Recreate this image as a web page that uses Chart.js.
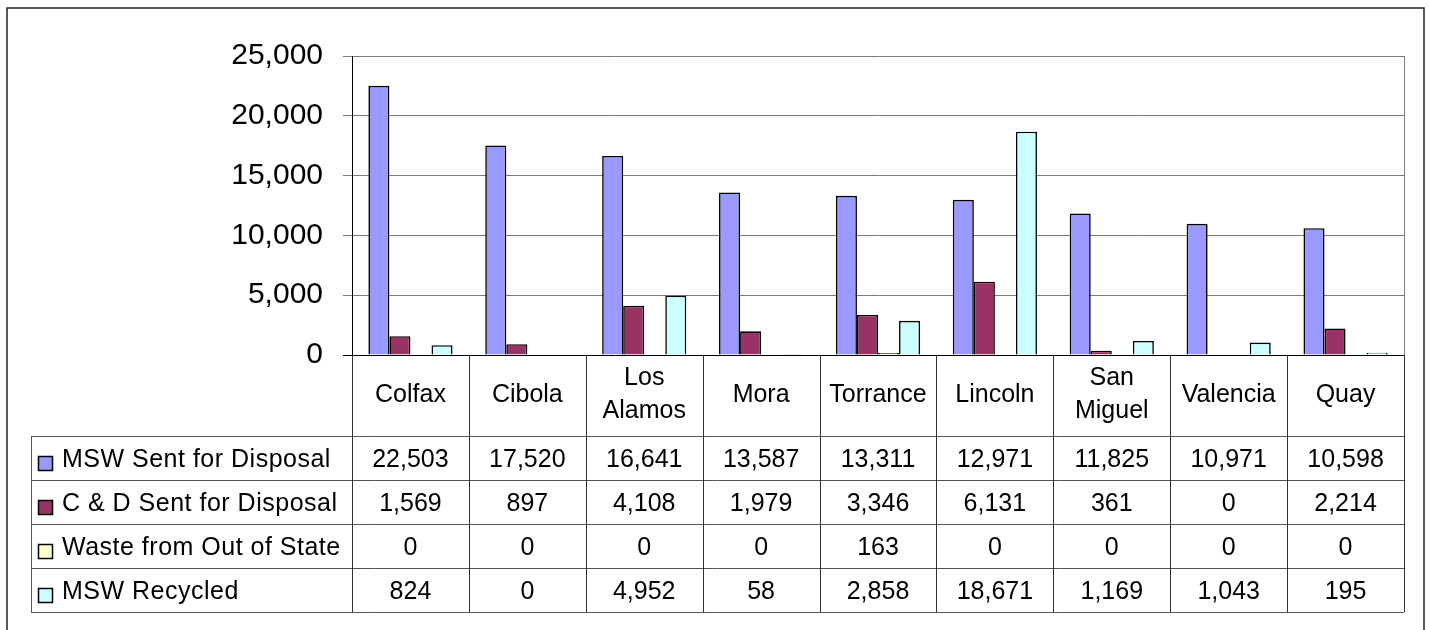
<!DOCTYPE html>
<html>
<head>
<meta charset="utf-8">
<script src="https://cdn.jsdelivr.net/npm/chart.js@4.4.1/dist/chart.umd.min.js"></script>
<style>
  html, body { margin: 0; padding: 0; background: #fff; }
  #wrap { position: relative; width: 1429px; height: 630px; }
</style>
</head>
<body>
<div id="wrap"><canvas id="c" width="1429" height="630"></canvas></div>
<script>
// Counties (multi-line names are given as arrays of lines)
const categories = ['Colfax', 'Cibola', ['Los', 'Alamos'], 'Mora', 'Torrance', 'Lincoln', ['San', 'Miguel'], 'Valencia', 'Quay'];

// Tons per county, by stream
const mswDisposal = [22503, 17520, 16641, 13587, 13311, 12971, 11825, 10971, 10598];
const cdDisposal  = [1569, 897, 4108, 1979, 3346, 6131, 361, 0, 2214];
const outOfState  = [0, 0, 0, 0, 163, 0, 0, 0, 0];
const mswRecycled = [824, 0, 4952, 58, 2858, 18671, 1169, 1043, 195];

const seriesNames = ['MSW Sent for Disposal', 'C & D Sent for Disposal', 'Waste from Out of State', 'MSW Recycled'];
const seriesColors = ['#9999FF', '#993366', '#FFFFCC', '#CCFFFF'];

// Value axis ticks
const yTicks = [0, 5000, 10000, 15000, 20000, 25000];

const FONT = "'Liberation Sans', Arial, sans-serif";
const fmt = v => v.toLocaleString('en-US');

// Data table under the plot, legend keys on the left, plus outer frame
const tablePlugin = {
  id: 'dataTable',
  afterDraw(chart) {
    const ctx = chart.ctx;
    const area = chart.chartArea;
    const xs = chart.scales.x;
    const n = categories.length;
    const colW = (area.right - area.left) / n;
    const headTop = area.bottom;
    const headH = 81;
    const rowH = 44;
    const rowsTop = headTop + headH;
    const tableBottom = rowsTop + rowH * seriesNames.length;
    const legendLeft = 31;

    ctx.save();

    // plot area right edge
    ctx.strokeStyle = '#808080';
    ctx.lineWidth = 1;
    ctx.beginPath();
    ctx.moveTo(Math.round(area.right) + 0.5, area.top);
    ctx.lineTo(Math.round(area.right) + 0.5, area.bottom);
    ctx.stroke();

    // horizontal rules of the table
    ctx.strokeStyle = '#555';
    ctx.lineWidth = 1;
    for (let r = 0; r <= seriesNames.length; r++) {
      const y = Math.round(rowsTop + r * rowH) + 0.5;
      ctx.beginPath();
      ctx.moveTo(legendLeft, y);
      ctx.lineTo(area.right, y);
      ctx.stroke();
    }
    ctx.beginPath();
    ctx.moveTo(legendLeft + 0.5, rowsTop);
    ctx.lineTo(legendLeft + 0.5, tableBottom);
    ctx.stroke();

    // column separators
    ctx.strokeStyle = '#333';
    for (let i = 0; i <= n; i++) {
      const x = i < n ? xs.getPixelForValue(i) - colW / 2 : xs.getPixelForValue(n - 1) + colW / 2;
      const xp = Math.round(x) + 0.5;
      ctx.beginPath();
      ctx.moveTo(xp, headTop);
      ctx.lineTo(xp, tableBottom);
      ctx.stroke();
    }

    // category headers
    ctx.fillStyle = '#000';
    ctx.font = '25px ' + FONT;
    ctx.textAlign = 'center';
    ctx.textBaseline = 'alphabetic';
    categories.forEach((c, i) => {
      const cx = xs.getPixelForValue(i);
      if (Array.isArray(c)) {
        ctx.fillText(c[0], cx, headTop + 30);
        ctx.fillText(c[1], cx, headTop + 63);
      } else {
        ctx.fillText(c, cx, headTop + 47);
      }
    });

    // value rows
    chart.data.datasets.forEach((ds, r) => {
      const top = rowsTop + r * rowH;
      ds.data.forEach((v, i) => {
        ctx.fillText(fmt(v), xs.getPixelForValue(i), top + 31);
      });
    });

    // legend keys and names
    ctx.textAlign = 'left';
    ctx.letterSpacing = '0.5px';
    chart.data.datasets.forEach((ds, r) => {
      const top = rowsTop + r * rowH;
      ctx.fillStyle = ds.backgroundColor;
      ctx.fillRect(38.5, top + 20.5, 14, 14);
      ctx.strokeStyle = '#000';
      ctx.lineWidth = 1.5;
      ctx.strokeRect(38.5, top + 20.5, 14, 14);
      ctx.fillStyle = '#000';
      ctx.fillText(ds.label, 62, top + 31);
    });
    ctx.letterSpacing = '0px';

    // outer frame
    ctx.strokeStyle = '#222';
    ctx.lineWidth = 1.5;
    ctx.strokeRect(7, 8, 1417, 640);

    ctx.restore();
  }
};

const datasets = [mswDisposal, cdDisposal, outOfState, mswRecycled].map((d, k) => ({
  label: seriesNames[k],
  data: d,
  backgroundColor: seriesColors[k],
  borderColor: '#000',
  borderWidth: 1.6,
  borderSkipped: 'bottom',
  categoryPercentage: 0.72,
  barPercentage: 1.0
}));

new Chart(document.getElementById('c'), {
  type: 'bar',
  data: { labels: categories, datasets },
  plugins: [tablePlugin],
  options: {
    responsive: false,
    devicePixelRatio: 1,
    animation: false,
    layout: { padding: { top: 56, right: 25, bottom: 275, left: 0 } },
    plugins: { legend: { display: false }, tooltip: { enabled: false } },
    scales: {
      x: { display: false, offset: true },
      y: {
        min: 0,
        max: 25000,
        afterBuildTicks: s => { s.ticks = yTicks.map(v => ({ value: v })); },
        afterFit: s => { s.width = 352; },
        border: { color: '#000', width: 1 },
        grid: {
          color: c => (c.tick && c.tick.value === 0 ? '#000' : '#7a7a7a'),
          lineWidth: 1,
          tickLength: 9,
          drawTicks: true
        },
        ticks: {
          padding: 20,
          color: '#000',
          font: { family: FONT, size: 30 },
          callback: v => fmt(v)
        }
      }
    }
  }
});
</script>
</body>
</html>
